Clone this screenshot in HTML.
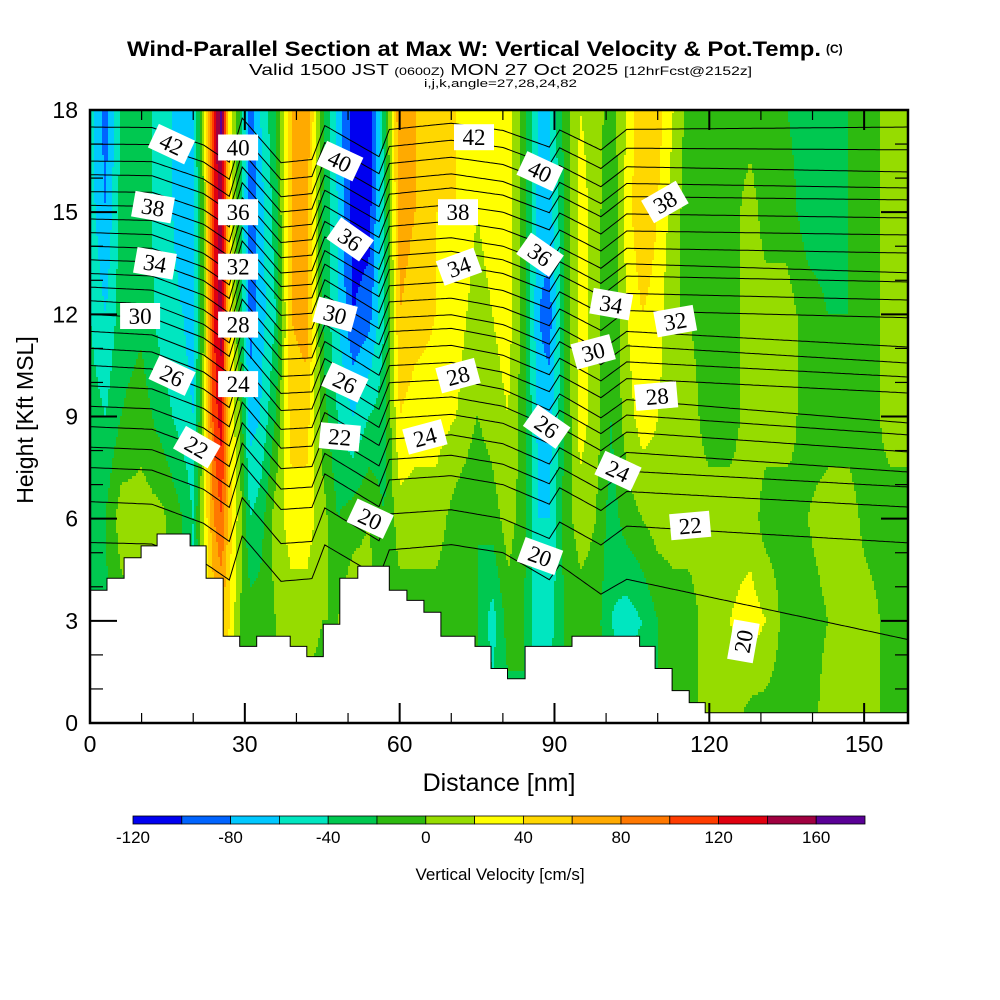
<!DOCTYPE html>
<html><head><meta charset="utf-8">
<style>
html,body{margin:0;padding:0;background:#fff;}
svg{display:block;font-family:"Liberation Sans",sans-serif;}
</style></head>
<body>
<svg id="chart" width="1000" height="1000" viewBox="0 0 1000 1000">
  <rect x="0" y="0" width="1000" height="1000" fill="#fff"/>
  <g>
    <text x="127" y="56" font-size="21" font-weight="bold" textLength="694" lengthAdjust="spacingAndGlyphs" font-family="Liberation Sans Narrow, Liberation Sans, sans-serif">Wind-Parallel Section at Max W: Vertical Velocity &amp; Pot.Temp.</text>
    <text x="826" y="53" font-size="12" font-weight="bold">(C)</text>
    <text x="249" y="75" font-size="16" textLength="503" lengthAdjust="spacingAndGlyphs" font-family="Liberation Sans Narrow, Liberation Sans, sans-serif">Valid 1500 JST <tspan font-size="11">(0600Z)</tspan> MON 27 Oct 2025 <tspan font-size="12">[12hrFcst@2152z]</tspan></text>
    <text x="424" y="87" font-size="11" textLength="153" lengthAdjust="spacingAndGlyphs" font-family="Liberation Sans Narrow, Liberation Sans, sans-serif">i,j,k,angle=27,28,24,82</text>
  </g>
  <defs><clipPath id="plotclip"><rect x="90" y="110" width="818" height="613"/></clipPath></defs>
  <g id="field" clip-path="url(#plotclip)"></g>
  <g id="contours" clip-path="url(#plotclip)"></g>
  <g id="terrain" clip-path="url(#plotclip)"></g>
  <g id="clabels" clip-path="url(#plotclip)"></g>
  <g id="axes"></g>
  <g id="cbar"></g>
</svg>
<script>
// ---- data ----
const zLevels = [0, 3, 6, 9, 12, 15, 18];
const colX = [0,3,6,10,14,18,20,22,24,25.5,27,29,31,33,36,39,42,45,48,51,54,57,60,63,67,71,75,78,81,84,87,89,92,95,98,101,104,107,110,113,116,120,124,128,131,135,139,143,147,151,155,158.5];
const colW = [
[-30,-30,-25,-30,-40,-50,-50],
[-30,-25,-20,-40,-60,-80,-90],
[-10,-10,10,-20,-30,-30,-40],
[10,10,10,-10,-25,-30,-30],
[10,10,5,-30,-50,-50,-50],
[-20,-30,-20,-50,-60,-70,-70],
[-40,-50,-40,-60,-70,-70,-60],
[0,10,20,10,0,0,10],
[30,50,80,110,120,120,130],
[40,60,100,130,150,160,165],
[30,40,50,40,40,40,30],
[0,0,10,0,-20,-20,-20],
[0,-10,-40,-70,-90,-100,-90],
[-10,-10,-30,-60,-70,-70,-60],
[0,0,10,-20,-40,-30,-20],
[0,10,30,50,60,60,60],
[-10,10,30,50,70,70,75],
[-10,0,10,-10,-20,-20,-10],
[-10,0,-20,-40,-60,-60,-70],
[0,20,-10,-60,-100,-110,-110],
[0,10,0,-40,-90,-110,-120],
[-10,-10,-20,-30,-40,-40,-30],
[-10,-10,10,40,60,70,80],
[-10,-10,10,30,50,60,60],
[-20,-10,10,30,40,40,40],
[-10,-10,-10,20,30,40,40],
[-20,-20,-20,0,10,20,20],
[-30,-50,-10,10,20,30,30],
[-30,-10,10,20,30,30,30],
[-20,-20,-10,-10,-10,-10,-10],
[-30,-60,-60,-70,-80,-70,-60],
[-30,-50,-60,-70,-90,-70,-60],
[-10,-20,-10,-20,-20,-20,-10],
[-10,-10,10,30,30,30,20],
[-10,-10,0,10,10,10,10],
[-30,-40,-30,-20,-20,-20,-10],
[-20,-50,-10,10,20,30,20],
[-20,-40,0,30,40,60,60],
[-20,-20,10,20,30,40,50],
[-10,-10,10,10,0,10,20],
[-10,-10,10,10,0,-10,-10],
[10,10,10,-10,-10,-10,-10],
[10,20,10,-10,-10,-10,-10],
[-10,30,10,10,10,10,-10],
[-10,20,-10,10,10,-10,-20],
[-10,-10,-10,10,10,-10,-20],
[-10,-10,0,-10,-10,-30,-30],
[10,0,10,-10,-20,-30,-30],
[10,10,10,-10,-20,-20,-20],
[10,10,-10,-10,-10,-10,-10],
[-10,-10,-10,10,10,10,10],
[-10,-10,-10,10,10,10,10]
];
const levelBounds = [-120,-100,-80,-60,-40,-20,0,20,40,60,80,100,120,140,160,180];
const levelColors = ["#0000f0","#0064ff","#00c8ff","#00e6c0","#00c850","#2dba10","#96dc00","#ffff00","#ffd700","#ffaa00","#ff7800","#ff3c00","#e00010","#a00040","#5a0096"];
const cbarTicks = [-120,-80,-40,0,40,80,120,160];

const thetaLevels = [20,21,22,23,24,25,26,27,28,29,30,31,32,33,34,35,36,37,38,39,40,41,42,43];
const thetaLeft  = [5.3,6.5,7.5,8.1,8.7,9.3,9.9,10.5,11.0,11.5,12.0,12.4,12.8,13.2,13.6,14.0,14.4,14.8,15.2,15.6,16.1,16.5,17.0,17.5];
const thetaMid   = [5.0,6.0,7.0,7.6,8.2,8.8,9.3,9.8,10.3,10.8,11.3,11.7,12.2,12.7,13.2,13.6,14.0,14.5,15.0,15.5,15.9,16.4,16.9,17.4];
const thetaRight = [2.45,5.29,6.34,6.93,7.37,7.96,8.46,8.81,9.69,10.16,10.57,11.04,11.9,12.42,12.95,13.22,13.8,14.33,14.83,15.36,15.71,16.18,16.83,17.5];
const waveX = [0,12,22,27,29.5,37,43,45.5,56,58,70,80,89,91,99,104,158.5];
const waveDz = [0,0,-0.5,-1.0,0.3,-1.0,-0.9,0.1,-0.8,0,0.2,0,-0.5,0,-0.6,0,0];

const terrainX = [0,3.3,6.6,9.9,13,19.4,22.5,25.8,29,32.3,38.8,42,45.2,48.4,51.9,58,61.4,64.7,68,74.6,77.7,80.9,84.3,93.4,106.5,109.5,112.8,116.1,119.2,158.5];
const terrainZ = [3.9,4.25,4.85,5.2,5.55,5.2,4.25,2.55,2.25,2.55,2.25,1.95,2.9,4.25,4.6,3.9,3.6,3.25,2.55,2.25,1.6,1.3,2.25,2.55,2.25,1.6,0.95,0.6,0.3,0.3];

const labelTheta = [42,40,40,42,40,38,36,36,38,36,38,34,32,34,34,32,30,28,30,30,28,28,26,24,26,28,26,24,22,22,24,22,20,20,20];
const labelX = [15.8,28.7,48.4,74.4,87.2,12.2,28.7,50.4,71.3,87.2,111.4,12.6,28.7,71.5,101,113.4,9.7,28.7,47.5,97.5,109.5,71.3,15.9,28.7,49.4,109.9,88.5,64.9,20.7,48.4,102.3,116.3,54.3,87.2,126.6];
const labelZ = [17,16.9,16.5,17.2,16.2,15.15,15.0,14.2,15.0,13.75,15.3,13.5,13.4,13.4,12.3,11.8,11.95,11.7,12.0,10.9,9.6,10.2,10.2,9.95,10.0,9.6,8.7,8.4,8.1,8.4,7.4,5.8,6.0,4.9,2.4];
const labelRot = [25,0,25,0,25,10,0,35,0,35,-30,10,0,-20,10,-10,0,0,15,-15,-5,-15,25,0,25,-5,35,-15,30,5,25,-5,25,20,-80];

// ---- scales ----
const PX0=90, PX1=908, PY0=723, PY1=110, XMAX=158.5, ZMAX=18;
const X = v => PX0 + v*(PX1-PX0)/XMAX;
const Y = v => PY0 - v*(PY0-PY1)/ZMAX;
const XI = p => (p-PX0)*XMAX/(PX1-PX0);
const ZI = p => (PY0-p)*ZMAX/(PY0-PY1);
const NS="http://www.w3.org/2000/svg";
function mk(tag, attrs, parent){const e=document.createElementNS(NS,tag);for(const k in attrs)e.setAttribute(k,attrs[k]);if(parent)parent.appendChild(e);return e;}
function interp1(xs, ys, x){ if(x<=xs[0])return ys[0]; for(let i=1;i<xs.length;i++){ if(x<=xs[i]){const t=(x-xs[i-1])/(xs[i]-xs[i-1]);return ys[i-1]+t*(ys[i]-ys[i-1]);} } return ys[ys.length-1]; }
function wAt(x,z){
  let i=0; while(i<colX.length-2 && x>colX[i+1]) i++;
  const tx=Math.max(0,Math.min(1,(x-colX[i])/(colX[i+1]-colX[i])));
  const a=interp1(zLevels,colW[i],z), b=interp1(zLevels,colW[i+1],z);
  return a+(b-a)*tx;
}
function colorIdx(v){ for(let k=0;k<levelColors.length;k++){ if(v<levelBounds[k+1]) return k; } return levelColors.length-1; }

// ---- field ----
const field=document.getElementById('field');
const CW=2, CH=3;
for(let py=PY1; py<PY0; py+=CH){
  const z=ZI(py+CH/2);
  let runStart=PX0, runIdx=-1;
  for(let px=PX0; px<=PX1; px+=CW){
    const idx = px<PX1 ? colorIdx(wAt(XI(px+CW/2),z)) : -2;
    if(idx!==runIdx){
      if(runIdx>=0){
        const r=mk('rect',{x:runStart,y:py,width:px-runStart+0.6,height:CH+0.6,fill:levelColors[runIdx]},field);
        
        
      }
      runStart=px; runIdx=idx;
    }
  }
}

// ---- contours ----
const cont=document.getElementById('contours');
thetaLevels.forEach((th,i)=>{
  let d='';
  for(let x=0;x<=XMAX+0.01;x+=0.5){
    let base;
    if(x<=80) base=thetaLeft[i]+(thetaMid[i]-thetaLeft[i])*x/80;
    else base=thetaMid[i]+(thetaRight[i]-thetaMid[i])*(x-80)/(XMAX-80);
    const z=base+interp1(waveX,waveDz,x);
    d+=(d?'L':'M')+X(x).toFixed(1)+' '+Y(z).toFixed(1);
  }
  const p=mk('path',{d:d,fill:'none',stroke:'#000','stroke-width':1},cont);
  
  
});

// ---- terrain ----
const ter=document.getElementById('terrain');
let td='M'+X(0)+' '+Y(0);
for(let i=0;i<terrainX.length;i++){
  const x0=X(terrainX[i]), x1=i+1<terrainX.length?X(terrainX[i+1]):X(XMAX)+2;
  td+='L'+x0.toFixed(1)+' '+Y(terrainZ[i]).toFixed(1)+'L'+x1.toFixed(1)+' '+Y(terrainZ[i]).toFixed(1);
}
td+='L'+(X(XMAX)+2)+' '+Y(0)+'Z';
const tp=mk('path',{d:td,fill:'#fff',stroke:'#000','stroke-width':1},ter);



// ---- contour labels ----
const cl=document.getElementById('clabels');
labelTheta.forEach((th,i)=>{
  const g=mk('g',{transform:`translate(${X(labelX[i]).toFixed(1)},${Y(labelZ[i]).toFixed(1)}) rotate(${labelRot[i]})`},cl);
  
  
  mk('rect',{x:-20,y:-13,width:40,height:26,fill:'#fff'},g);
  const t=mk('text',{x:0,y:8,'text-anchor':'middle','font-size':23,'font-family':'Liberation Serif, serif',fill:'#000'},g);
  t.textContent=th;
});

// ---- axes ----
const ax=document.getElementById('axes');
const frame=mk('rect',{x:PX0,y:PY1,width:PX1-PX0,height:PY0-PY1,fill:'none',stroke:'#000','stroke-width':2.5},ax);


for(let z=0;z<=18;z++){
  const major=z%3===0, L=major?27:13, y=Y(z);
  mk('line',{x1:PX0,y1:y,x2:PX0+L,y2:y,stroke:'#000','stroke-width':major?2:1.2},ax);
  mk('line',{x1:PX1,y1:y,x2:PX1-L,y2:y,stroke:'#000','stroke-width':major?2:1.2},ax);
  if(major){
    const t=mk('text',{x:PX0-12,y:y+8,'text-anchor':'end','font-size':23},ax);
    
    
    t.textContent=z;
  }
}
for(let x=0;x<=150;x+=10){
  const major=x%30===0, L=major?20:10, px=X(x);
  mk('line',{x1:px,y1:PY0,x2:px,y2:PY0-L,stroke:'#000','stroke-width':major?2:1.2},ax);
  mk('line',{x1:px,y1:PY1,x2:px,y2:PY1+L,stroke:'#000','stroke-width':major?2:1.2},ax);
  if(major){
    const t=mk('text',{x:px,y:PY0+29,'text-anchor':'middle','font-size':23},ax);
    
    
    t.textContent=x;
  }
}
const xt=mk('text',{x:499,y:791,'text-anchor':'middle','font-size':25},ax);


xt.textContent='Distance [nm]';
const yt=mk('text',{x:0,y:0,'text-anchor':'middle','font-size':23,transform:'translate(33,420) rotate(-90)'},ax);


yt.textContent='Height [Kft MSL]';

// ---- colorbar ----
const cb=document.getElementById('cbar');
const CB0=133, CB1=865, CBY=816, CBH=8;
const CBX = v => CB0 + (v-levelBounds[0])*(CB1-CB0)/(levelBounds[levelBounds.length-1]-levelBounds[0]);
levelColors.forEach((c,k)=>{
  const r=mk('rect',{x:CBX(levelBounds[k]),y:CBY,width:CBX(levelBounds[k+1])-CBX(levelBounds[k]),height:CBH,fill:c,stroke:'#000','stroke-width':0.8},cb);
  
  
});
cbarTicks.forEach(v=>{
  const t=mk('text',{x:CBX(v),y:843,'text-anchor':'middle','font-size':17},cb);
  
  
  t.textContent=v;
});
const cbt=mk('text',{x:500,y:880,'text-anchor':'middle','font-size':17},cb);


cbt.textContent='Vertical Velocity [cm/s]';
</script>
</body></html>
